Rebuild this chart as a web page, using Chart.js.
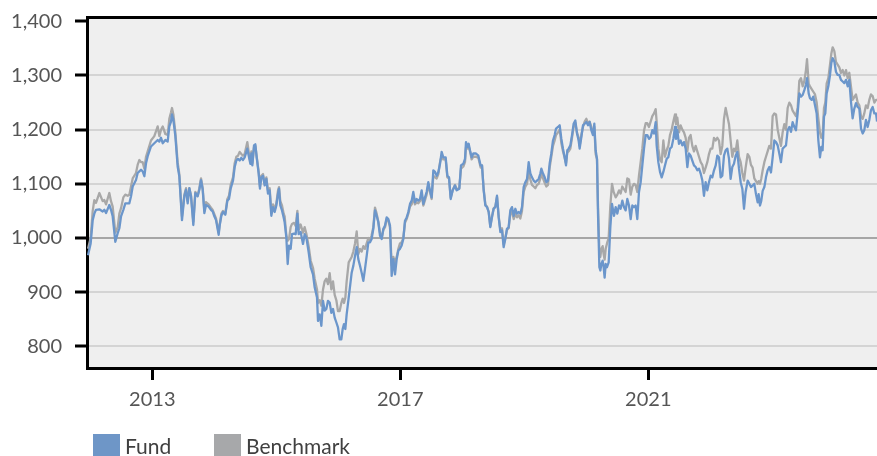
<!DOCTYPE html>
<html><head><meta charset="utf-8">
<script src="https://cdn.jsdelivr.net/npm/chart.js@4/dist/chart.umd.min.js"></script>
<style>html,body{margin:0;padding:0;background:#fff;overflow:hidden}#wrap{width:877px;height:456px;position:relative}</style>
</head><body><div id="wrap"><canvas id="c" width="877" height="456"></canvas></div>
<script>
// decimal-year dates
const dates = [
2011.963,2012.006,2012.039,2012.065,2012.092,2012.146,2012.200,2012.227,2012.254,2012.307,2012.334,2012.361,2012.404,2012.442,2012.469,2012.496,2012.533,2012.565,2012.603,2012.630,2012.657,2012.684,2012.737,2012.764,2012.791,2012.818,2012.845,2012.872,2012.899,2012.926,2012.979,2013.033,2013.087,2013.114,2013.141,2013.168,2013.211,2013.248,2013.275,2013.302,2013.318,2013.340,2013.372,2013.409,2013.436,2013.479,2013.517,2013.544,2013.571,2013.598,2013.625,2013.662,2013.694,2013.732,2013.759,2013.786,2013.813,2013.840,2013.866,2013.909,2013.947,2013.974,2014.001,2014.028,2014.071,
2014.087,2014.114,2014.141,2014.178,2014.211,2014.237,2014.264,2014.302,2014.329,2014.356,2014.383,2014.409,2014.436,2014.463,2014.490,2014.533,2014.560,2014.582,2014.598,2014.614,2014.641,2014.662,2014.684,2014.716,2014.737,2014.759,2014.786,2014.813,2014.840,2014.866,2014.893,2014.920,2014.947,2014.974,2015.001,2015.028,2015.044,2015.065,2015.092,2015.119,2015.135,2015.162,2015.184,2015.205,2015.232,2015.254,2015.286,2015.313,2015.340,2015.361,2015.393,2015.431,2015.458,2015.485,2015.522,2015.555,2015.592,2015.619,2015.657,2015.673,2015.700,2015.727,2015.754,2015.780,2015.807,2015.834,2015.861,2015.888,2015.915,2015.942,2015.969,2015.995,2016.022,2016.049,2016.071,2016.092,2016.114,2016.135,2016.168,
2016.216,2016.243,2016.270,2016.297,2016.323,2016.350,2016.377,2016.404,2016.431,2016.458,2016.485,2016.512,2016.538,2016.565,2016.592,2016.619,2016.646,2016.673,2016.700,2016.727,2016.754,2016.780,2016.807,2016.834,2016.861,2016.888,2016.915,2016.942,2016.969,2016.995,2017.022,2017.049,2017.076,2017.103,2017.130,2017.157,2017.184,2017.210,2017.237,2017.264,2017.291,2017.318,2017.345,2017.372,2017.399,2017.425,2017.452,2017.479,2017.506,2017.533,2017.560,2017.587,2017.614,2017.641,2017.667,2017.694,2017.732,2017.759,2017.786,2017.813,2017.845,2017.882,2017.909,2017.952,2017.979,2018.017,2018.044,2018.060,2018.081,2018.103,2018.124,2018.151,2018.178,2018.221,2018.259,2018.296,2018.318,
2018.345,2018.372,2018.399,2018.426,2018.452,2018.479,2018.506,2018.533,2018.560,2018.587,2018.614,2018.641,2018.667,2018.694,2018.721,2018.748,2018.775,2018.802,2018.829,2018.856,2018.882,2018.909,2018.936,2018.963,2018.990,2019.017,2019.044,2019.071,2019.098,2019.124,2019.151,2019.178,2019.205,2019.232,2019.259,2019.275,2019.302,2019.329,2019.356,2019.382,2019.409,2019.436,2019.463,2019.490,2019.512,2019.544,2019.571,2019.598,2019.624,2019.651,2019.673,2019.694,2019.716,2019.743,2019.770,2019.796,2019.823,2019.850,2019.877,2019.893,2019.920,2019.947,2019.974,2020.001,2020.028,2020.054,2020.081,2020.108,2020.130,2020.151,2020.173,2020.189,2020.211,2020.227,2020.243,2020.264,2020.280,2020.296,2020.313,2020.334,2020.361,2020.388,2020.415,2020.441,
2020.447,2020.474,2020.501,2020.528,2020.554,2020.581,2020.608,2020.635,2020.662,2020.689,2020.716,2020.743,2020.769,2020.796,2020.823,2020.850,2020.877,2020.904,2020.931,2020.958,2020.984,2021.011,2021.038,2021.065,2021.092,2021.119,2021.135,2021.162,2021.189,2021.216,2021.243,2021.269,2021.296,2021.323,2021.350,2021.377,2021.404,2021.431,2021.447,2021.468,2021.495,2021.522,2021.549,2021.576,2021.603,2021.630,2021.656,2021.683,2021.710,2021.737,2021.764,2021.791,2021.818,2021.845,2021.872,2021.898,2021.925,2021.952,2021.979,2022.006,2022.033,2022.060,2022.087,2022.113,2022.140,2022.167,2022.194,2022.221,2022.248,2022.275,2022.302,2022.328,2022.355,2022.382,2022.409,2022.436,2022.463,2022.490,2022.517,2022.544,2022.570,
2022.603,2022.630,2022.656,2022.683,2022.710,2022.737,2022.764,2022.780,2022.802,2022.823,2022.845,2022.872,2022.898,2022.925,2022.952,2022.979,2023.006,2023.033,2023.060,2023.087,2023.113,2023.140,2023.167,2023.194,2023.221,2023.248,2023.275,2023.302,2023.328,2023.355,2023.382,2023.409,2023.436,2023.463,2023.490,2023.517,2023.543,2023.560,2023.587,2023.608,2023.635,2023.662,2023.689,2023.716,2023.743,2023.769,2023.791,2023.812,2023.834,2023.855,2023.877,2023.904,2023.931,2023.952,2023.974,2024.001,2024.027,2024.054,2024.081,2024.108,2024.135,2024.162,2024.189,2024.216,2024.242,2024.269,2024.296,2024.323,2024.350,2024.377,2024.404,2024.431,2024.458,2024.484,2024.511,2024.538,2024.565,2024.592,2024.619,2024.646,2024.673,2024.690
];
const fund = [
968,990,1033,1045,1052,1053,1049,1052,1046,1061,1052,1040,993,1009,1018,1040,1052,1064,1064,1064,1077,1095,1107,1120,1123,1126,1123,1114,1138,1151,1169,1175,1181,1178,1185,1175,1181,1178,1206,1215,1228,1218,1188,1132,1114,1033,1077,1089,1064,1092,1077,1024,1083,1077,1089,1107,1089,1046,1061,1058,1052,1049,1040,1033,1006,
1023,1041,1048,1043,1069,1072,1091,1106,1131,1143,1146,1143,1148,1144,1149,1165,1149,1137,1156,1134,1171,1173,1149,1119,1091,1112,1115,1097,1109,1082,1088,1041,1057,1048,1060,1082,1091,1060,1051,1038,1029,1001,952,986,980,1007,1008,1007,1045,1007,1011,989,1007,1001,974,946,933,909,890,847,859,838,884,866,869,884,881,862,869,853,844,835,813,813,832,841,832,859,890,
936,949,967,983,961,949,936,921,943,967,992,992,998,1017,1051,1041,1029,1004,998,1017,1023,1038,1035,1023,930,961,933,961,977,980,986,998,1032,1038,1048,1063,1069,1085,1066,1072,1069,1072,1088,1063,1075,1085,1103,1088,1075,1125,1122,1115,1122,1137,1159,1149,1149,1115,1112,1072,1088,1097,1088,1091,1134,1137,1146,1177,1168,1174,1162,1149,1156,1156,1152,1134,1134,
1088,1060,1057,1048,1020,1038,1054,1057,1078,1038,1011,1014,983,998,1017,1020,1051,1057,1041,1054,1045,1048,1045,1057,1094,1103,1109,1140,1119,1112,1106,1103,1106,1109,1119,1128,1119,1112,1103,1106,1137,1156,1180,1190,1202,1205,1208,1183,1165,1149,1134,1162,1165,1171,1190,1211,1217,1193,1180,1165,1186,1208,1211,1214,1208,1214,1199,1190,1211,1162,1146,1045,946,940,952,958,946,927,952,946,955,1020,1063,1045,
1041,1057,1045,1060,1054,1069,1057,1051,1072,1060,1035,1060,1057,1060,1035,1085,1103,1134,1165,1190,1190,1183,1186,1199,1193,1214,1171,1140,1122,1112,1122,1134,1146,1149,1165,1168,1183,1205,1183,1199,1174,1180,1171,1177,1165,1131,1156,1152,1143,1134,1131,1125,1128,1119,1106,1078,1103,1088,1103,1115,1112,1125,1134,1152,1149,1112,1115,1152,1162,1165,1146,1109,1131,1137,1152,1159,1128,1103,1091,1054,1085,
1106,1100,1094,1097,1100,1081,1066,1081,1060,1069,1087,1094,1112,1125,1131,1121,1149,1180,1177,1171,1156,1140,1165,1168,1171,1199,1205,1196,1214,1205,1199,1230,1267,1261,1264,1273,1283,1295,1267,1258,1255,1261,1245,1230,1180,1149,1168,1162,1224,1230,1267,1280,1301,1323,1332,1326,1307,1301,1301,1292,1289,1286,1292,1280,1292,1252,1221,1239,1249,1242,1239,1202,1193,1199,1218,1205,1218,1236,1242,1230,1230,1215
];
const benchmark = [
980,1000,1050,1070,1065,1083,1068,1070,1062,1083,1068,1058,1010,1020,1045,1055,1075,1080,1078,1080,1095,1110,1120,1135,1144,1140,1140,1128,1150,1160,1180,1188,1206,1188,1200,1206,1192,1190,1220,1232,1240,1228,1195,1140,1118,1040,1080,1092,1068,1092,1078,1030,1085,1078,1092,1110,1092,1050,1066,1062,1056,1052,1044,1036,1010,
1025,1045,1050,1045,1072,1078,1098,1112,1138,1150,1152,1159,1155,1152,1155,1177,1155,1140,1160,1138,1168,1170,1150,1122,1095,1115,1118,1100,1112,1088,1092,1048,1062,1052,1064,1088,1094,1068,1060,1045,1040,1005,995,998,1020,1026,1028,1022,1050,1015,1025,1010,1020,1008,985,958,945,925,905,880,885,875,905,920,925,915,935,905,920,895,885,865,865,880,888,880,890,920,955,
965,975,990,1012,970,980,975,985,980,990,1000,995,1005,1020,1056,1045,1030,1010,1000,1015,1020,1035,1032,1020,950,965,955,965,980,990,992,1000,1028,1035,1045,1058,1062,1075,1062,1066,1064,1068,1080,1060,1070,1080,1098,1085,1072,1115,1112,1110,1118,1140,1152,1145,1145,1112,1110,1075,1088,1098,1090,1092,1128,1132,1140,1168,1165,1170,1160,1145,1150,1150,1148,1130,1134,
1090,1062,1058,1048,1022,1040,1055,1058,1076,1040,1015,1018,988,1000,1015,1018,1045,1048,1035,1045,1038,1042,1036,1050,1085,1095,1100,1122,1108,1098,1095,1092,1098,1100,1110,1118,1110,1102,1095,1098,1130,1150,1170,1180,1190,1195,1200,1175,1160,1148,1138,1158,1160,1165,1185,1205,1212,1195,1185,1170,1190,1205,1215,1220,1212,1215,1205,1195,1205,1155,1145,1060,975,965,980,985,970,960,980,990,1000,1060,1100,1085,
1085,1075,1080,1088,1082,1095,1090,1085,1110,1108,1080,1095,1100,1098,1085,1115,1140,1165,1198,1212,1212,1205,1215,1225,1230,1238,1215,1165,1145,1140,1180,1150,1162,1170,1190,1200,1215,1228,1210,1222,1195,1208,1200,1195,1185,1160,1185,1190,1170,1160,1170,1160,1150,1140,1135,1120,1130,1140,1155,1165,1165,1185,1180,1185,1180,1155,1170,1220,1240,1225,1210,1180,1150,1165,1160,1180,1150,1140,1120,1106,1130,
1155,1150,1135,1130,1110,1105,1100,1105,1100,1110,1125,1140,1150,1160,1170,1165,1225,1230,1228,1200,1185,1170,1195,1210,1200,1240,1250,1245,1235,1230,1225,1240,1290,1295,1280,1290,1310,1330,1285,1280,1275,1270,1265,1250,1220,1195,1185,1190,1240,1250,1285,1295,1320,1340,1352,1345,1325,1320,1315,1305,1310,1300,1310,1295,1305,1280,1255,1260,1265,1250,1245,1225,1220,1230,1245,1240,1255,1265,1262,1250,1255,1255
];
const seriesNames = ['Fund', 'Benchmark'];
const yTicks = [800, 900, 1000, 1100, 1200, 1300, 1400];
const xTicks = [2013, 2017, 2021];

const FONT = 'Lato';
const colors = { fund: '#6b96cb', bench: '#a8a8a8', fundBox: '#6e96c7', benchBox: '#a7a8aa' };

const bgPlugin = {
  id: 'plotBg',
  beforeDraw(chart) {
    const a = chart.chartArea, ctx = chart.ctx;
    ctx.save();
    ctx.fillStyle = '#efefef';
    ctx.fillRect(a.left, a.top, a.right - a.left, a.bottom - a.top);
    ctx.restore();
  },
  afterDraw(chart) {
    const a = chart.chartArea, ctx = chart.ctx;
    ctx.save();
    ctx.strokeStyle = '#000';
    ctx.lineWidth = 3;
    ctx.beginPath();
    ctx.moveTo(a.left - 1, a.top + 0.5);
    ctx.lineTo(a.right, a.top + 0.5);
    ctx.stroke();
    ctx.restore();
  }
};

const legendPlugin = {
  id: 'customLegend',
  afterDraw(chart) {
    const ctx = chart.ctx;
    const xs = [93, 214];
    const boxColors = [colors.fundBox, colors.benchBox];
    ctx.save();
    ctx.font = '21px ' + FONT;
    ctx.textBaseline = 'alphabetic';
    chart.data.datasets.forEach((ds, i) => {
      ctx.fillStyle = boxColors[i];
      ctx.fillRect(xs[i], 434, 27, 26);
      ctx.fillStyle = '#404040';
      ctx.fillText(ds.label, xs[i] + 32, 454);
    });
    ctx.restore();
  }
};

new Chart(document.getElementById('c'), {
  type: 'line',
  data: {
    datasets: [
      { label: seriesNames[0], data: dates.map((d, i) => ({ x: d, y: fund[i] })), borderColor: colors.fund, borderWidth: 2.3, pointRadius: 0, tension: 0, borderJoinStyle: 'round' },
      { label: seriesNames[1], data: dates.map((d, i) => ({ x: d, y: benchmark[i] })), borderColor: colors.bench, borderWidth: 2.3, pointRadius: 0, tension: 0, borderJoinStyle: 'round' }
    ]
  },
  options: {
    responsive: false,
    animation: false,
    devicePixelRatio: 1,
    layout: { padding: { top: 17, left: 0, right: 0, bottom: 0 } },
    plugins: { legend: { display: false }, tooltip: { enabled: false } },
    scales: {
      x: {
        type: 'linear', min: 2011.947, max: 2024.689,
        afterBuildTicks: s => { s.ticks = xTicks.map(v => ({ value: v })); },
        afterFit: s => { s.height = 88; s.paddingLeft = 0; s.paddingRight = 0; },
        grid: { drawOnChartArea: false, drawTicks: true, tickColor: '#000', tickWidth: 3, tickLength: 12 },
        border: { display: true, color: '#000', width: 3 },
        ticks: { color: '#555', font: { family: FONT, size: 20 }, padding: 8, maxRotation: 0, autoSkip: false, callback: v => String(v) }
      },
      y: {
        min: 760, max: 1408,
        afterBuildTicks: s => { s.ticks = yTicks.map(v => ({ value: v })); },
        afterFit: s => { s.width = 87; s.paddingTop = 0; s.paddingBottom = 0; },
        grid: {
          color: c => c.tick && c.tick.value === 1000 ? '#a6a6a6' : (c.tick && c.tick.value === 1400 ? 'rgba(0,0,0,0)' : '#d4d4d4'),
          lineWidth: 2, tickColor: '#000', tickWidth: 3, tickLength: 12
        },
        border: { display: true, color: '#000', width: 3 },
        ticks: { color: '#555', font: { family: FONT, size: 20 }, padding: 13, callback: v => v.toLocaleString('en-US') }
      }
    }
  },
  plugins: [bgPlugin, legendPlugin]
});
</script>
</body></html>
